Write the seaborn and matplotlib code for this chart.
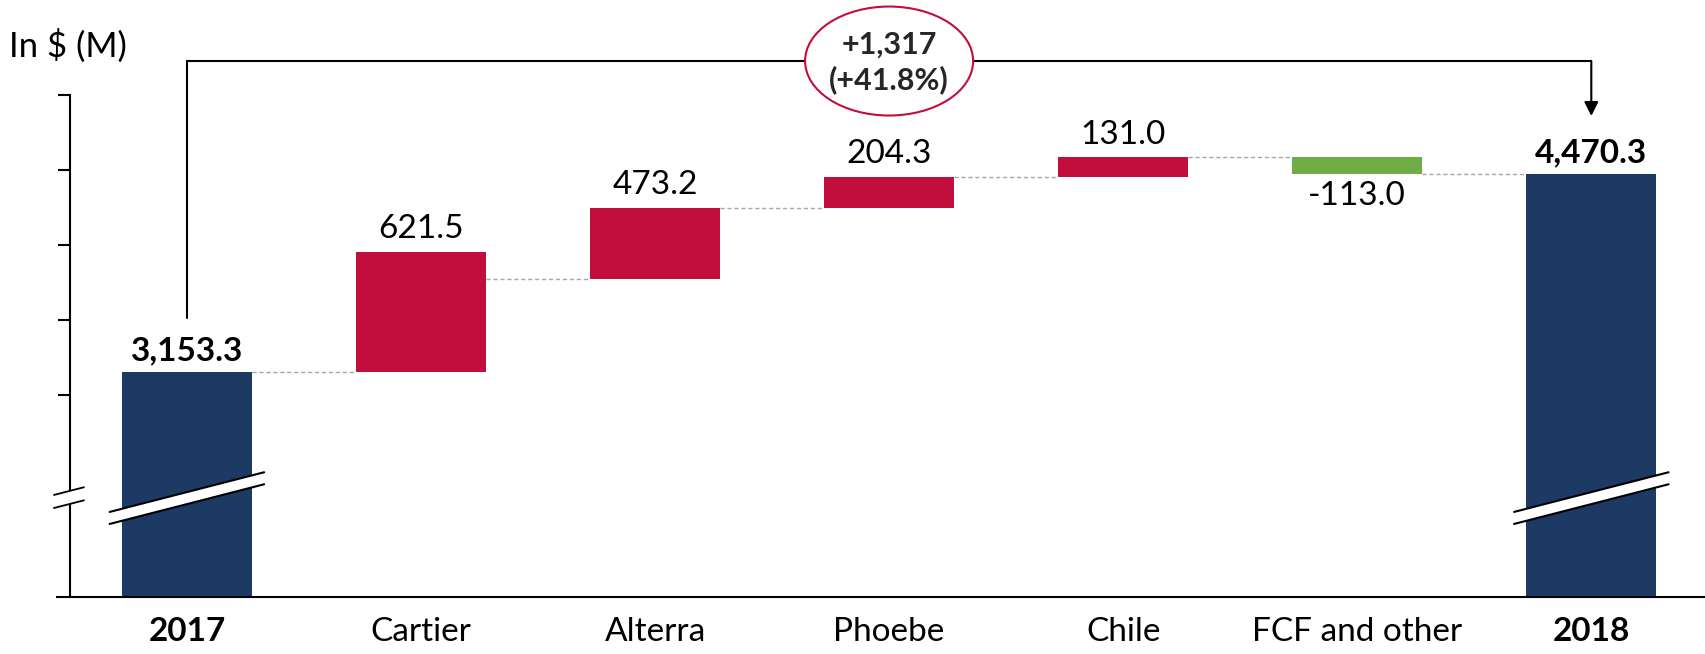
import numpy as np
import pandas as pd
import matplotlib
matplotlib.use("Agg")
import matplotlib.pyplot as plt
import seaborn as sns
from matplotlib.patches import Ellipse, Polygon

# ---------------- data ----------------
categories = ["2017", "Cartier", "Alterra", "Phoebe", "Chile", "FCF and other", "2018"]
start_value = 3153.3
end_value = 4470.3
deltas = [621.5, 473.2, 204.3, 131.0, -113.0]
delta_labels = ["621.5", "473.2", "204.3", "131.0", "-113.0"]
total_labels = ["3,153.3", "4,470.3"]
# bar spans as they are drawn in the source (the Cartier bar is drawn taller than its value)
drawn_spans = [803.0, 473.2, 204.3, 131.0, -113.0]
change_lines = ["+1,317", "(+41.8%)"]
ytick_values = [3000, 3500, 4000, 4500, 5000]
axis_floor = 1661  # value at the (broken) baseline

NAVY = "#1C3A64"
RED = "#C20E3D"
GREEN = "#70AD47"
bar_colors = [NAVY, RED, RED, RED, RED, GREEN, NAVY]

sns.set_theme(style="white")
plt.rcParams["font.family"] = ["Lato", "DejaVu Sans"]

running = start_value + np.concatenate([[0.0], np.cumsum(deltas)])  # totals after each step
bases = [0.0] + list(running[:-1]) + [0.0]
spans = [start_value] + drawn_spans + [end_value]
df = pd.DataFrame({"category": categories, "span": spans})

W, H = 1706, 654
fig = plt.figure(figsize=(W / 100, H / 100), dpi=100)
ax_left, ax_bottom_px = 57, 596.7
ax = fig.add_axes([ax_left / W, (H - ax_bottom_px) / H, (W - ax_left) / W, ax_bottom_px / H])

width = 0.555
sns.barplot(data=df, x="category", y="span", order=categories, width=width,
            bottom=np.array(bases), errorbar=None, saturation=1, color=NAVY, ax=ax)
for patch, c in zip(ax.patches, bar_colors):
    patch.set_facecolor(c)
    patch.set_edgecolor("none")
    patch.set_linewidth(0)

px_per_unit = 0.1503
ax.set_xlim(-0.555, 6.49)
ax.set_ylim(axis_floor, axis_floor + ax_bottom_px / px_per_unit)

# spines
for s in ["top", "right"]:
    ax.spines[s].set_visible(False)
ax.spines["left"].set_position(("data", -0.5))
ax.spines["left"].set_bounds(axis_floor, ytick_values[-1])
for s in ["left", "bottom"]:
    ax.spines[s].set_color("black")
    ax.spines[s].set_linewidth(1.5)

LABEL_FS = 24
ax.set_yticks(ytick_values)
ax.set_yticklabels([])
ax.tick_params(axis="y", left=True, length=8.6, width=1.5, color="black", direction="out")
ax.set_xticks(range(len(categories)))
ax.set_xticklabels(categories)
ax.tick_params(axis="x", bottom=False, length=0, pad=14.5, labelsize=LABEL_FS, labelcolor="black")
for i, lab in enumerate(ax.get_xticklabels()):
    if i in (0, len(categories) - 1):
        lab.set_fontweight("bold")
ax.set_xlabel("")
ax.set_ylabel("")

# connectors
for i in range(len(categories) - 1):
    lvl = running[i]
    ax.plot([i + width / 2, i + 1 - width / 2], [lvl, lvl], color="#A6A6A6",
            lw=1.0, dashes=(3, 2), zorder=1)

# value labels
ax.annotate(total_labels[0], (0, start_value), xytext=(0, 9), textcoords="offset points",
            ha="center", va="baseline", fontsize=LABEL_FS, fontweight="bold", color="black")
ax.annotate(total_labels[1], (6, end_value), xytext=(0, 9), textcoords="offset points",
            ha="center", va="baseline", fontsize=LABEL_FS, fontweight="bold", color="black")
for k, (d, lab) in enumerate(zip(drawn_spans, delta_labels)):
    i = k + 1
    if d >= 0:
        ax.annotate(lab, (i, bases[i] + d), xytext=(0, 10), textcoords="offset points",
                    ha="center", va="baseline", fontsize=LABEL_FS, color="black")
    else:
        ax.annotate(lab, (i, bases[i] + d), xytext=(0, -5), textcoords="offset points",
                    ha="center", va="top", fontsize=LABEL_FS, color="black")

# change bracket
bracket_y = 5225
ax.plot([0, 0, 6], [start_value + 362, bracket_y, bracket_y], color="black", lw=1.5,
        solid_joinstyle="miter", clip_on=False, zorder=4)
ax.annotate("", xy=(6, end_value + 389), xytext=(6, bracket_y),
            arrowprops=dict(arrowstyle="-|>,head_length=0.7,head_width=0.35", lw=1.5,
                            color="black", shrinkA=0, shrinkB=0), zorder=4)
ell = Ellipse((3, bracket_y), width=0.718, height=725, facecolor="white",
              edgecolor=RED, lw=1.5, zorder=5, clip_on=False)
ax.add_patch(ell)
ax.text(3, bracket_y + 107, change_lines[0], ha="center", va="center", fontsize=22,
        fontweight="bold", zorder=6)
ax.text(3, bracket_y - 127, change_lines[1], ha="center", va="center", fontsize=22,
        fontweight="bold", zorder=6)

# axis-break marks on the total bars
slope = 400.0
half = 0.33
low, gap = 2145, 80
for i in (0, 6):
    xs = [i - half, i + half]
    y1 = [low, low + slope * 2 * half]
    y2 = [low + gap, low + gap + slope * 2 * half]
    ax.add_patch(Polygon([(xs[0], y1[0]), (xs[1], y1[1]), (xs[1], y2[1]), (xs[0], y2[0])],
                         closed=True, facecolor="white", edgecolor="none", zorder=3))
    ax.plot(xs, y1, color="black", lw=1.5, zorder=4)
    ax.plot(xs, y2, color="black", lw=1.5, zorder=4)

# break on the y axis spine
sx = [-0.568, -0.44]
s1 = [2251, 2251 + slope * 0.128]
s2 = [2338, 2338 + slope * 0.128]
ax.add_patch(Polygon([(sx[0], s1[0]), (sx[1], s1[1]), (sx[1], s2[1]), (sx[0], s2[0])],
                     closed=True, facecolor="white", edgecolor="none", zorder=3, clip_on=False))
ax.plot(sx, s1, color="black", lw=1.3, zorder=4, clip_on=False)
ax.plot(sx, s2, color="black", lw=1.3, zorder=4, clip_on=False)

fig.text(9 / W, 1 - 46 / H, "In $ (M)", ha="left", va="center", fontsize=25, color="black")

fig.savefig("out.png", dpi=100)
